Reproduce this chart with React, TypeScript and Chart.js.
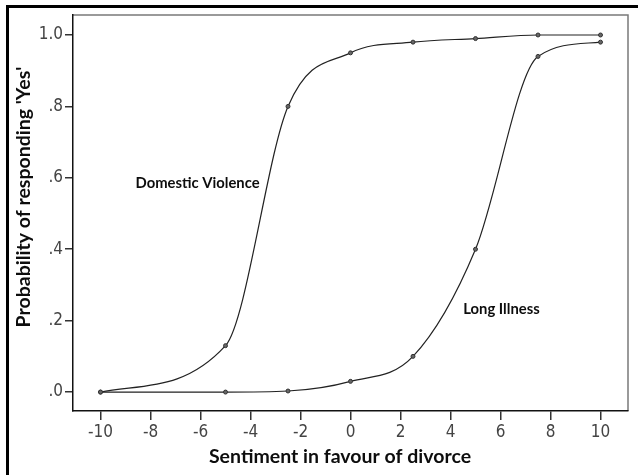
import React, { useEffect, useRef } from "react";
import { Chart, registerables } from "chart.js";

Chart.register(...registerables);

// ---- data ----
const sentiment = [-10, -5, -2.5, 0, 2.5, 5, 7.5, 10];
const domesticViolence = [0, 0.13, 0.8, 0.95, 0.98, 0.99, 1.0, 1.0];
const longIllness = [0, 0.0, 0.003, 0.03, 0.1, 0.4, 0.94, 0.98];

const xTicks = [-10, -8, -6, -4, -2, 0, 2, 4, 6, 8, 10];
const xTickLabels = ["-10", "-8", "-6", "-4", "-2", "0", "2", "4", "6", "8", "10"];
const yTicks = [0, 0.2, 0.4, 0.6, 0.8, 1.0];
const yTickLabels = [".0", ".2", ".4", ".6", ".8", "1.0"];

const seriesNames = ["Domestic Violence", "Long Illness"];
const labelX = [-6.12, 6.04];
const labelY = [0.584, 0.233];

const xTitle = "Sentiment in favour of divorce";
const yTitle = "Probability of responding 'Yes'";

const TICK_FONT = "'Liberation Sans Narrow', 'DejaVu Sans Condensed', 'Liberation Sans', sans-serif";
const TITLE_FONT = "Lato, 'Open Sans', sans-serif";

const decorPlugin = {
  id: "decor",
  beforeDraw(chart: any) {
    const { ctx, chartArea } = chart;
    ctx.save();
    ctx.fillStyle = "#ffffff";
    ctx.fillRect(0, 0, chart.width, chart.height);
    ctx.fillStyle = "#000";
    ctx.fillRect(6, 5, 3, chart.height - 5);
    ctx.fillRect(6, 5, chart.width - 6, 3);
    // top & right frame (gray)
    ctx.strokeStyle = "#7a7a7a";
    ctx.lineWidth = 1.5;
    ctx.beginPath();
    ctx.moveTo(chartArea.left, chartArea.top);
    ctx.lineTo(chartArea.right, chartArea.top);
    ctx.lineTo(chartArea.right, chartArea.bottom);
    ctx.stroke();
    ctx.restore();
  },
  afterDraw(chart: any) {
    const { ctx, chartArea, scales } = chart;
    ctx.save();
    ctx.fillStyle = "#0d0d0d";
    ctx.textAlign = "center";
    ctx.textBaseline = "middle";
    ctx.font = `bold 14.8px ${TITLE_FONT}`;
    seriesNames.forEach((n, i) => {
      ctx.fillText(n, scales.x.getPixelForValue(labelX[i]), scales.y.getPixelForValue(labelY[i]));
    });
    ctx.font = `bold 19.5px ${TITLE_FONT}`;
    ctx.fillText(xTitle, 340, 457);
    ctx.translate(24, 197);
    ctx.rotate(-Math.PI / 2);
    ctx.fillText(yTitle, 0, 0);
    ctx.restore();
  },
};

export default function App() {
  const ref = useRef<HTMLCanvasElement | null>(null);
  useEffect(() => {
    if (!ref.current) return;
    const lineStyle = {
      showLine: true,
      borderColor: "#222",
      borderWidth: 1.2,
      pointRadius: 2,
      pointBorderWidth: 1,
      pointBorderColor: "#333",
      pointBackgroundColor: "#666",
      cubicInterpolationMode: "monotone" as const,
      fill: false,
    };
    const chart = new Chart(ref.current, {
      type: "scatter",
      data: {
        datasets: [
          {
            label: seriesNames[0],
            data: sentiment.map((x, i) => ({ x, y: domesticViolence[i] })),
            ...lineStyle,
          },
          {
            label: seriesNames[1],
            data: sentiment.map((x, i) => ({ x, y: longIllness[i] })),
            ...lineStyle,
          },
        ],
      },
      options: {
        animation: false,
        responsive: false,
        layout: { padding: { left: 0, top: 15, right: 10, bottom: 0 } },
        plugins: { legend: { display: false }, tooltip: { enabled: false } },
        scales: {
          x: {
            type: "linear",
            min: -11.1,
            max: 11.1,
            afterBuildTicks: (s: any) => {
              s.ticks = xTicks.map((v) => ({ value: v }));
            },
            afterFit: (s: any) => {
              s.height = 64;
            },
            grid: { drawOnChartArea: false, drawTicks: true, tickLength: 9, tickColor: "#333", lineWidth: 1.5 },
            border: { display: true, color: "#111", width: 1.5 },
            ticks: {
              autoSkip: false,
              maxRotation: 0,
              padding: 2,
              color: "#444",
              font: { family: TICK_FONT, size: 17 },
              callback: (_v: any, i: number) => xTickLabels[i],
            },
          },
          y: {
            type: "linear",
            min: -0.053,
            max: 1.056,
            afterBuildTicks: (s: any) => {
              s.ticks = yTicks.map((v) => ({ value: v }));
            },
            afterFit: (s: any) => {
              s.width = 73;
            },
            grid: { drawOnChartArea: false, drawTicks: true, tickLength: 8, tickColor: "#333", lineWidth: 1.5 },
            border: { display: true, color: "#111", width: 1.5 },
            ticks: {
              autoSkip: false,
              padding: 2,
              color: "#444",
              font: { family: TICK_FONT, size: 17 },
              callback: (_v: any, i: number) => yTickLabels[i],
            },
          },
        },
      },
      plugins: [decorPlugin],
    });
    return () => chart.destroy();
  }, []);
  return (
    <div style={{ position: "fixed", left: 0, top: 0, width: 638, height: 475, background: "#fff" }}>
      <canvas ref={ref} width={638} height={475} />
    </div>
  );
}
